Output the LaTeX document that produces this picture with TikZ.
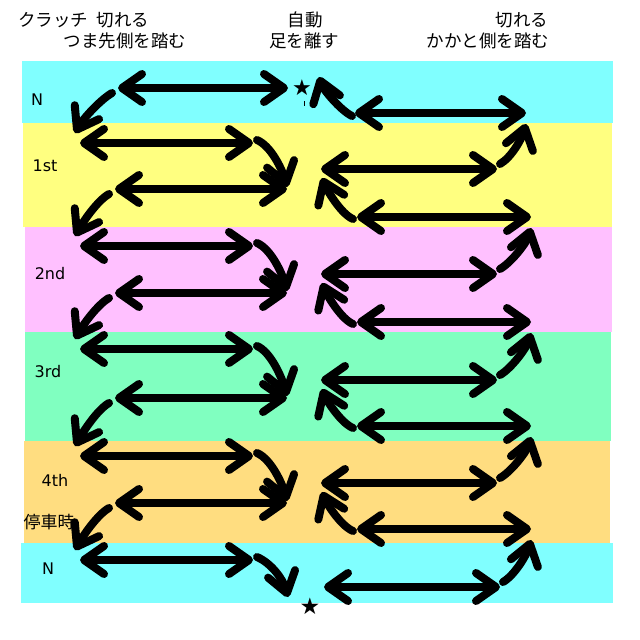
\documentclass[tikz,border=0pt]{standalone}
\usepackage{fontspec}
\setmainfont{DejaVu Sans}
\newfontfamily\jpfont{Noto Sans CJK JP}
\usetikzlibrary{arrows.meta}
\definecolor{bandN}{HTML}{80FFFF}
\definecolor{bandA}{HTML}{FFFF80}
\definecolor{bandB}{HTML}{FFC0FF}
\definecolor{bandC}{HTML}{80FFC0}
\definecolor{bandD}{HTML}{FFDD80}
\begin{document}
\begin{tikzpicture}[x=1pt,y=-1pt,
  >={Straight Barb[length=20pt,width=28pt,round]},
  hand/.style={line width=8pt,line cap=round,line join=round},
  twohead/.style={hand,<->},
  onehead/.style={hand,->},
  jptext/.style={font=\jpfont\fontsize{17.5}{20}\selectfont,inner sep=0pt},
  lbl/.style={font=\fontsize{16}{18}\selectfont,inner sep=0pt},
  starmark/.style={font=\fontsize{22}{24}\selectfont,inner sep=0pt}]
\useasboundingbox (0,0) rectangle (640,640);
\fill[white] (0,0) rectangle (640,640);
% bands
\fill[bandN] (22,61) rectangle (613,123);
\fill[bandA] (23,123) rectangle (612,227);
\fill[bandB] (25,227) rectangle (612,332);
\fill[bandC] (25,332) rectangle (611,441);
\fill[bandD] (24,441) rectangle (610,543);
\fill[bandN] (21,543) rectangle (613,603);
% header texts
\node[jptext,anchor=west] (h1) at (18,20) {クラッチ\hspace{0.5em}切れる};
\node[jptext] (h2) at (125,41) {つま先側を踏む};
\node[jptext] (h3) at (305,20) {自動};
\node[jptext] (h4) at (304,41) {足を離す};
\node[jptext] (h5) at (522,20) {切れる};
\node[jptext] (h6) at (488,41) {かかと側を踏む};
% band labels
\node[lbl] (lN0) at (37,100) {N};
\node[lbl] (l1) at (45,166) {1st};
\node[lbl] (l2) at (50,274) {2nd};
\node[lbl] (l3) at (48,372) {3rd};
\node[lbl] (l4) at (55,480) {4th};
\node[jptext,font=\jpfont\fontsize{17}{20}\selectfont] (lstop) at (49,522) {停車時};
\node[lbl] (lN5) at (48,569) {N};
% stars
\node[starmark] (startop) at (302,88) {★};
\node[starmark,font=\fontsize{23}{24}\selectfont] (starbot) at (310,606) {★};
\draw[line width=1pt] (304,101) -- (304,106);
% endpoints
\foreach \j/\ya/\yb/\ye/\yf in {1/143/189/169/217,2/246/293/274/322,3/349/398/380/426,4/456/503/483/529}{
  \coordinate (AL\j) at (80,\ya);  \coordinate (AR\j) at (253,\ya);
  \coordinate (BL\j) at (115,\yb); \coordinate (BR\j) at (287,\yb);
  \coordinate (EL\j) at (321,\ye); \coordinate (ER\j) at (497,\ye);
  \coordinate (FL\j) at (357,\yf); \coordinate (FR\j) at (531,\yf);
}
\coordinate (BL0) at (118,88);  \coordinate (BR0) at (288,88);
\coordinate (FL0) at (355,113); \coordinate (FR0) at (526,113);
\coordinate (AL5) at (80,560);  \coordinate (AR5) at (253,560);
\coordinate (EL5) at (324,587); \coordinate (ER5) at (500,587);
\coordinate (CE5) at (288,597);
\coordinate (GE0) at (319,77);
% straight double arrows
\foreach \j in {1,2,3,4,5}{ \draw[twohead] (AL\j) -- (AR\j); }
\foreach \j in {0,1,2,3,4}{ \draw[twohead] (BL\j) -- (BR\j); }
\foreach \j in {1,2,3,4,5}{ \draw[twohead] (EL\j) -- (ER\j); }
\foreach \j in {0,1,2,3,4}{ \draw[twohead] (FL\j) -- (FR\j); }
% left side: curves going down on the right
\foreach \j in {1,2,3,4}{
  \draw[onehead] ([shift={(4,-3)}]AR\j) .. controls +(14,6) and +(-5,-18) .. ([shift={(0,-2)}]BR\j);
}
\draw[onehead] ([shift={(4,-3)}]AR5) .. controls +(14,6) and +(-5,-18) .. (CE5);
% left side: curves going down on the left
\foreach \j/\k in {0/1,1/2,2/3,3/4,4/5}{
  \draw[onehead] ([shift={(-6,5)}]BL\j) .. controls +(-12,7) and +(8,-14) .. ([shift={(-5,-10)}]AL\k);
}
% right side: curves going up on the left
\foreach \j in {1,2,3,4}{
  \draw[onehead] ([shift={(-4,2)}]FL\j) .. controls +(-12,-5) and +(5,12) .. ([shift={(1,9)}]EL\j);
}
\draw[onehead] ([shift={(-3,3)}]FL0) .. controls +(-12,-6) and +(4,12) .. (GE0);
% right side: curves going up on the right
\foreach \j/\k in {1/0,2/1,3/2,4/3,5/4}{
  \draw[onehead] ([shift={(3,-5)}]ER\j) .. controls +(12,-7) and +(-4,14) .. ([shift={(0,11)}]FR\k);
}
\end{tikzpicture}
\end{document}
